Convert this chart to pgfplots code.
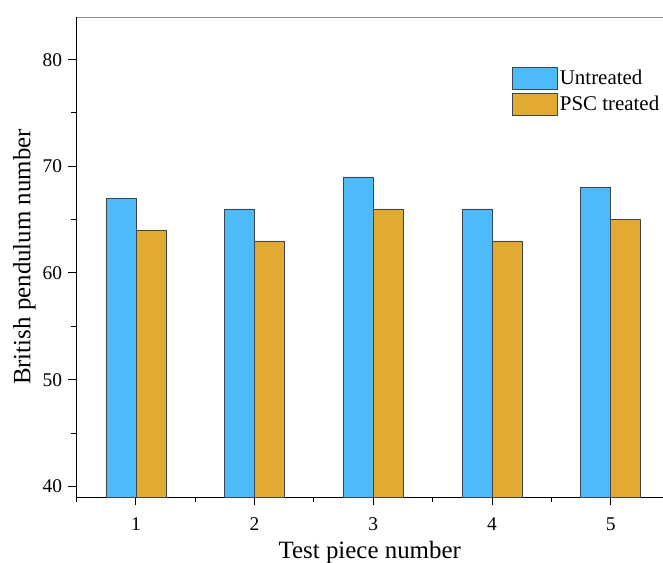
\documentclass[border=0pt]{standalone}
\usepackage{fontspec}
\setmainfont{Liberation Serif}
\usepackage{pgfplots}
\pgfplotsset{compat=1.18}
\definecolor{cblue}{RGB}{77,186,250}
\definecolor{cgold}{RGB}{226,170,48}
\definecolor{cedge}{RGB}{60,70,80}
\begin{document}
\begin{tikzpicture}
\useasboundingbox (0,0) rectangle (663bp,563bp);
\begin{axis}[
  at={(76.5bp,66bp)}, anchor=south west,
  scale only axis,
  width=586.5bp, height=480bp,
  xmin=0.5, xmax=5.44,
  ymin=39, ymax=84,
  axis lines*=left,
  axis line style={line width=1pt, black},
  xtick={0,1,2,3,4,5},
  ytick={40,50,60,70,80},
  minor tick num=1,
  tick align=outside,
  major tick length=8bp,
  minor tick length=5bp,
  tick style={line width=1pt, black},
  /pgf/number format/assume math mode=true,
  ticklabel style={font=\fontsize{19.5}{21}\selectfont},
  xticklabel style={yshift=-9bp},
  yticklabel style={xshift=-3bp},
  xlabel={Test piece number},
  ylabel={British pendulum number},
  label style={font=\fontsize{25}{27}\selectfont},
  xlabel style={yshift=-4bp},
  legend image code/.code={\draw[#1] (0bp,-11bp) rectangle (45bp,11bp);},
  legend style={draw=none, fill=none, at={(0.7425,0.896)}, anchor=north west,
    font=\fontsize{21}{23}\selectfont, inner sep=0pt, row sep=3bp,
    nodes={inner sep=2bp}},
  legend cell align=left,
  clip=false,
]
\addplot[ybar, bar width=30bp, bar shift=-15bp, fill=cblue, draw=cedge, line width=0.7pt] coordinates {(1,67) (2,66) (3,69) (4,66) (5,68)};
\addplot[ybar, bar width=30bp, bar shift=15bp, fill=cgold, draw=cedge, line width=0.7pt] coordinates {(1,64) (2,63) (3,66) (4,63) (5,65)};
\legend{Untreated, PSC treated}
\draw[black!45, line width=0.8pt] (rel axis cs:0,1) -- (rel axis cs:1,1);
\end{axis}
\end{tikzpicture}
\end{document}
